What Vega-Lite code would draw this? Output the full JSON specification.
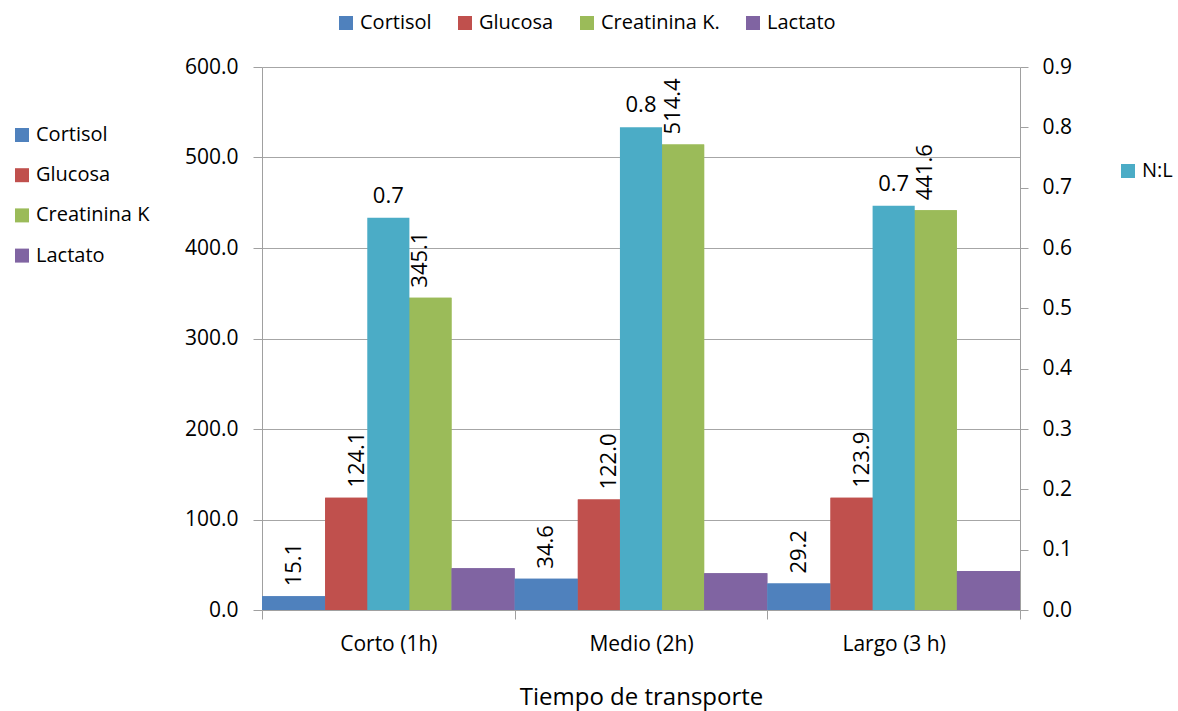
{
  "$schema": "https://vega.github.io/schema/vega-lite/v6.json",
  "width": 758,
  "height": 543,
  "autosize": {"type": "none"},
  "padding": {"left": 262, "top": 67, "right": 158, "bottom": 101},
  "background": "white",
  "datasets": {
    "primarios": [
      {"tiempo": "Corto (1h)", "serie": "Cortisol", "leyenda": "Cortisol", "valor": 15.1},
      {"tiempo": "Corto (1h)", "serie": "Glucosa", "leyenda": "Glucosa", "valor": 124.1},
      {"tiempo": "Corto (1h)", "serie": "Creatinina K.", "leyenda": "Creatinina K", "valor": 345.1},
      {"tiempo": "Corto (1h)", "serie": "Lactato", "leyenda": "Lactato", "valor": 46.1},
      {"tiempo": "Medio (2h)", "serie": "Cortisol", "leyenda": "Cortisol", "valor": 34.6},
      {"tiempo": "Medio (2h)", "serie": "Glucosa", "leyenda": "Glucosa", "valor": 122.0},
      {"tiempo": "Medio (2h)", "serie": "Creatinina K.", "leyenda": "Creatinina K", "valor": 514.4},
      {"tiempo": "Medio (2h)", "serie": "Lactato", "leyenda": "Lactato", "valor": 40.5},
      {"tiempo": "Largo (3 h)", "serie": "Cortisol", "leyenda": "Cortisol", "valor": 29.2},
      {"tiempo": "Largo (3 h)", "serie": "Glucosa", "leyenda": "Glucosa", "valor": 123.9},
      {"tiempo": "Largo (3 h)", "serie": "Creatinina K.", "leyenda": "Creatinina K", "valor": 441.6},
      {"tiempo": "Largo (3 h)", "serie": "Lactato", "leyenda": "Lactato", "valor": 43.1}
    ],
    "nl": [
      {"tiempo": "Corto (1h)", "serie": "N:L", "valor": 0.65},
      {"tiempo": "Medio (2h)", "serie": "N:L", "valor": 0.8},
      {"tiempo": "Largo (3 h)", "serie": "N:L", "valor": 0.67}
    ]
  },
  "config": {
    "font": "Open Sans",
    "view": {"stroke": null},
    "axis": {
      "labelFont": "Open Sans", "labelFontSize": 21, "labelColor": "#000000",
      "titleFont": "Open Sans", "titleFontSize": 24, "titleFontWeight": "normal", "titleColor": "#000000",
      "domainColor": "#a0a0a0", "tickColor": "#a0a0a0", "gridColor": "#a6a6a6"
    },
    "legend": {
      "labelFont": "Open Sans", "labelFontSize": 20, "labelColor": "#000000",
      "symbolType": "square", "symbolSize": 196, "symbolStrokeWidth": 0, "labelOffset": 4,
      "title": null
    }
  },
  "encoding": {
    "x": {
      "field": "tiempo", "type": "nominal",
      "sort": ["Corto (1h)", "Medio (2h)", "Largo (3 h)"],
      "scale": {"paddingInner": 0, "paddingOuter": 0},
      "axis": {
        "title": "Tiempo de transporte", "labelAngle": 0, "tickBand": "extent",
        "tickSize": 9, "labelPadding": 14, "titlePadding": 31
      }
    }
  },
  "layer": [
    {
      "data": {"name": "primarios"},
      "encoding": {
        "y": {
          "field": "valor", "type": "quantitative",
          "scale": {"domain": [0, 600], "nice": false},
          "axis": {
            "orient": "left", "title": null, "values": [0, 100, 200, 300, 400, 500, 600],
            "format": ".1f", "tickSize": 9, "labelPadding": 15, "grid": true
          }
        },
        "xOffset": {
          "field": "serie", "type": "nominal",
          "scale": {"domain": ["Cortisol", "Glucosa", "Creatinina K.", "Lactato"], "paddingInner": 0, "paddingOuter": 0}
        }
      },
      "layer": [
        {
          "mark": {"type": "bar"},
          "encoding": {
            "color": {
              "field": "leyenda", "type": "nominal",
              "scale": {"domain": ["Cortisol", "Glucosa", "Creatinina K", "Lactato"], "range": ["#4F81BD", "#C0504D", "#9BBB59", "#8064A2"]},
              "legend": {"orient": "none", "legendX": -250, "legendY": 58, "direction": "vertical", "rowPadding": 20.2}
            }
          }
        },
        {
          "mark": {"type": "bar"},
          "encoding": {
            "color": {
              "field": "serie", "type": "nominal",
              "scale": {"domain": ["Cortisol", "Glucosa", "Creatinina K.", "Lactato"], "range": ["#4F81BD", "#C0504D", "#9BBB59", "#8064A2"]},
              "legend": {"orient": "none", "legendX": 74, "legendY": -54, "direction": "horizontal", "columnPadding": 23}
            }
          }
        },
        {
          "transform": [{"filter": "datum.serie != 'Lactato'"}],
          "mark": {"type": "text", "angle": 270, "align": "left", "baseline": "middle", "dx": 10, "fontSize": 22, "font": "Open Sans", "color": "#000000"},
          "encoding": {"text": {"field": "valor", "type": "quantitative", "format": ".1f"}}
        }
      ],
      "resolve": {"scale": {"color": "independent"}}
    },
    {
      "data": {"name": "nl"},
      "encoding": {
        "y": {
          "field": "valor", "type": "quantitative",
          "scale": {"domain": [0, 0.9], "nice": false},
          "axis": {
            "orient": "right", "title": null, "values": [0, 0.1, 0.2, 0.3, 0.4, 0.5, 0.6, 0.7, 0.8, 0.9],
            "format": ".1f", "tickSize": 8, "labelPadding": 14, "grid": false
          }
        }
      },
      "layer": [
        {
          "mark": {"type": "bar", "width": {"band": 0.1667}},
          "encoding": {
            "color": {
              "field": "serie", "type": "nominal",
              "scale": {"domain": ["N:L"], "range": ["#4BACC6"]},
              "legend": {"orient": "none", "legendX": 856, "legendY": 94}
            }
          }
        },
        {
          "mark": {"type": "text", "baseline": "alphabetic", "dy": -15, "fontSize": 22, "font": "Open Sans", "color": "#000000"},
          "encoding": {"text": {"field": "valor", "type": "quantitative", "format": ".1f"}}
        }
      ]
    }
  ],
  "resolve": {"scale": {"y": "independent", "color": "independent"}}
}
